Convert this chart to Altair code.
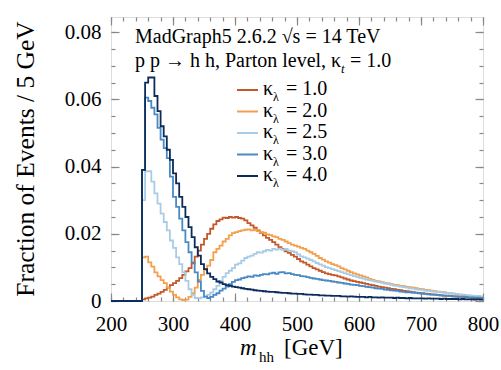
import altair as alt
import pandas as pd

# ---------------- data (fraction of events per 5 GeV bin) ----------------
bin_lo = list(range(200, 800, 5))  # left edges of the 5 GeV bins
labels = ["1.0", "2.0", "2.5", "3.0", "4.0"]
colors = ["#c4582a", "#f2a04c", "#a9cce6", "#4a8ac4", "#0c2c5c"]

zeros = [0.0] * 10  # 200-245 GeV: below threshold

k10 = zeros + [
    0.0005, 0.0008, 0.0010, 0.0013, 0.0018, 0.0022, 0.0027, 0.0033, 0.0040, 0.0047,
    0.0053, 0.0060, 0.0068, 0.0078, 0.0088, 0.0098, 0.0112, 0.0132, 0.0150, 0.0168,
    0.0185, 0.0200, 0.0215, 0.0228, 0.0238, 0.0243, 0.0248, 0.0247, 0.0250, 0.0248,
    0.0250, 0.0247, 0.0245, 0.0240, 0.0232, 0.0225, 0.0218, 0.0210, 0.0203, 0.0195,
    0.0188, 0.0182, 0.0175, 0.0168, 0.0160, 0.0155, 0.0148, 0.0143, 0.0137, 0.0132,
    0.0125, 0.0118, 0.0114, 0.0108, 0.0103, 0.0098, 0.0094, 0.0090, 0.0086, 0.0082,
    0.0080, 0.0078, 0.0076, 0.0073, 0.0070, 0.0067, 0.0064, 0.0061, 0.0059, 0.0057,
    0.0055, 0.0053, 0.0051, 0.0049, 0.0047, 0.0045, 0.0043, 0.0041, 0.0040, 0.0038,
    0.0036, 0.0035, 0.0033, 0.0032, 0.0030, 0.0029, 0.0028, 0.0026, 0.0025, 0.0024,
    0.0023, 0.0022, 0.0021, 0.0020, 0.0019, 0.0018, 0.0017, 0.0016, 0.0015, 0.0015,
    0.0014, 0.0013, 0.0012, 0.0012, 0.0011, 0.0010, 0.0010, 0.0009, 0.0009, 0.0008,
]

k20 = zeros + [
    0.0130, 0.0132, 0.0115, 0.0102, 0.0085, 0.0073, 0.0062, 0.0053, 0.0040, 0.0028,
    0.0018, 0.0011, 0.0005, 0.0003, 0.0004, 0.0012, 0.0023, 0.0040, 0.0063, 0.0078,
    0.0093, 0.0105, 0.0122, 0.0145, 0.0155, 0.0165, 0.0177, 0.0185, 0.0195, 0.0202,
    0.0205, 0.0208, 0.0210, 0.0212, 0.0213, 0.0210, 0.0212, 0.0208, 0.0205, 0.0203,
    0.0198, 0.0196, 0.0192, 0.0190, 0.0185, 0.0182, 0.0177, 0.0172, 0.0168, 0.0165,
    0.0162, 0.0158, 0.0155, 0.0150, 0.0145, 0.0140, 0.0134, 0.0128, 0.0123, 0.0118,
    0.0114, 0.0110, 0.0107, 0.0103, 0.0098, 0.0094, 0.0090, 0.0086, 0.0082, 0.0079,
    0.0076, 0.0073, 0.0070, 0.0066, 0.0063, 0.0060, 0.0058, 0.0056, 0.0054, 0.0052,
    0.0050, 0.0048, 0.0047, 0.0045, 0.0044, 0.0042, 0.0041, 0.0040, 0.0038, 0.0036,
    0.0035, 0.0033, 0.0032, 0.0031, 0.0029, 0.0028, 0.0027, 0.0026, 0.0024, 0.0023,
    0.0022, 0.0020, 0.0019, 0.0018, 0.0017, 0.0016, 0.0015, 0.0014, 0.0013, 0.0012,
]

k25 = zeros + [
    0.0300, 0.0386, 0.0386, 0.0355, 0.0320, 0.0290, 0.0260, 0.0235, 0.0210, 0.0180,
    0.0158, 0.0130, 0.0110, 0.0085, 0.0060, 0.0035, 0.0018, 0.0009, 0.0008, 0.0011,
    0.0014, 0.0018, 0.0025, 0.0035, 0.0045, 0.0060, 0.0072, 0.0083, 0.0090, 0.0098,
    0.0108, 0.0112, 0.0120, 0.0128, 0.0132, 0.0135, 0.0140, 0.0145, 0.0144, 0.0148,
    0.0152, 0.0150, 0.0155, 0.0153, 0.0156, 0.0152, 0.0155, 0.0150, 0.0148, 0.0145,
    0.0139, 0.0133, 0.0130, 0.0126, 0.0122, 0.0118, 0.0113, 0.0109, 0.0105, 0.0101,
    0.0098, 0.0095, 0.0092, 0.0089, 0.0086, 0.0083, 0.0080, 0.0077, 0.0074, 0.0072,
    0.0069, 0.0067, 0.0064, 0.0062, 0.0060, 0.0058, 0.0056, 0.0054, 0.0052, 0.0050,
    0.0048, 0.0046, 0.0045, 0.0043, 0.0041, 0.0040, 0.0038, 0.0037, 0.0035, 0.0034,
    0.0033, 0.0031, 0.0030, 0.0029, 0.0028, 0.0027, 0.0026, 0.0025, 0.0024, 0.0023,
    0.0022, 0.0021, 0.0020, 0.0019, 0.0018, 0.0017, 0.0016, 0.0015, 0.0015, 0.0014,
]

k30 = zeros + [
    0.0390, 0.0605, 0.0595, 0.0575, 0.0555, 0.0515, 0.0480, 0.0455, 0.0425, 0.0370,
    0.0310, 0.0280, 0.0245, 0.0210, 0.0175, 0.0145, 0.0115, 0.0085, 0.0058, 0.0030,
    0.0013, 0.0009, 0.0012, 0.0018, 0.0023, 0.0031, 0.0037, 0.0043, 0.0050, 0.0057,
    0.0062, 0.0064, 0.0068, 0.0070, 0.0073, 0.0072, 0.0076, 0.0075, 0.0078, 0.0080,
    0.0079, 0.0082, 0.0084, 0.0081, 0.0085, 0.0086, 0.0082, 0.0083, 0.0080, 0.0078,
    0.0077, 0.0074, 0.0073, 0.0071, 0.0069, 0.0067, 0.0066, 0.0064, 0.0062, 0.0061,
    0.0060, 0.0058, 0.0057, 0.0055, 0.0054, 0.0052, 0.0051, 0.0049, 0.0048, 0.0047,
    0.0045, 0.0044, 0.0042, 0.0041, 0.0040, 0.0038, 0.0037, 0.0036, 0.0034, 0.0033,
    0.0032, 0.0031, 0.0030, 0.0028, 0.0027, 0.0026, 0.0026, 0.0025, 0.0024, 0.0023,
    0.0022, 0.0021, 0.0020, 0.0019, 0.0019, 0.0018, 0.0017, 0.0016, 0.0016, 0.0015,
    0.0014, 0.0014, 0.0013, 0.0013, 0.0012, 0.0011, 0.0011, 0.0010, 0.0010, 0.0009,
]

k40 = zeros + [
    0.0390, 0.0650, 0.0665, 0.0665, 0.0610, 0.0565, 0.0520, 0.0490, 0.0450, 0.0420,
    0.0380, 0.0350, 0.0310, 0.0280, 0.0250, 0.0220, 0.0190, 0.0160, 0.0135, 0.0110,
    0.0095, 0.0082, 0.0072, 0.0065, 0.0058, 0.0055, 0.0050, 0.0047, 0.0045, 0.0043,
    0.0041, 0.0040, 0.0038, 0.0036, 0.0035, 0.0034, 0.0032, 0.0031, 0.0030, 0.0029,
    0.0028, 0.0027, 0.0027, 0.0026, 0.0025, 0.0024, 0.0024, 0.0023, 0.0022, 0.0022,
    0.0021, 0.0021, 0.0020, 0.0019, 0.0019, 0.0018, 0.0018, 0.0017, 0.0017, 0.0016,
    0.0016, 0.0015, 0.0015, 0.0015, 0.0014, 0.0014, 0.0013, 0.0014, 0.0013, 0.0012,
    0.0012, 0.0012, 0.0011, 0.0012, 0.0011, 0.0011, 0.0010, 0.0011, 0.0010, 0.0010,
    0.0010, 0.0009, 0.0010, 0.0009, 0.0009, 0.0008, 0.0009, 0.0008, 0.0008, 0.0008,
    0.0008, 0.0007, 0.0008, 0.0007, 0.0007, 0.0007, 0.0006, 0.0007, 0.0006, 0.0006,
    0.0006, 0.0006, 0.0005, 0.0006, 0.0005, 0.0005, 0.0005, 0.0004, 0.0005, 0.0004,
]

series = [k10, k20, k25, k30, k40]
x_ticks_major = [200, 300, 400, 500, 600, 700, 800]
y_ticks_major = [0, 0.02, 0.04, 0.06, 0.08]

# ---------------- table ----------------
rows = []
for lab, vals in zip(labels, series):
    for lo, v in zip(bin_lo, vals):
        rows.append({"k": lab, "x": lo, "y": v})
    rows.append({"k": lab, "x": 800, "y": vals[-1]})  # close last step
df = pd.DataFrame(rows)

FONT = "Liberation Serif"
TICK = "#888888"
W, H = 372, 284

xs = alt.Scale(domain=[200, 800], nice=False, zero=False)
ys = alt.Scale(domain=[0, 0.0845], nice=False)
x_minor = list(range(200, 801, 20))
y_minor = [round(i * 0.005, 3) for i in range(0, 17)]


def ax(orient, values, size, labels=False, **kw):
    return alt.Axis(orient=orient, values=values, tickSize=size, offset=-size,
                    labels=labels, domain=False, grid=False, title=None,
                    ticks=True, tickColor=TICK, tickWidth=1.2, **kw)


lines = alt.Chart(df).mark_line(interpolate="step-after", strokeWidth=1.8).encode(
    x=alt.X("x:Q", scale=xs,
            axis=ax("bottom", x_ticks_major, 8, labels=True, labelPadding=12,
                    labelFont=FONT, labelFontSize=21, labelColor="black",
                    labelFlush=False)),
    y=alt.Y("y:Q", scale=ys,
            axis=ax("left", y_ticks_major, 8, labels=True, labelPadding=10,
                    labelFont=FONT, labelFontSize=21, labelColor="black",
                    labelFlush=False,
                    labelExpr="datum.value == 0 ? '0' : format(datum.value, '.2f')")),
    color=alt.Color("k:N", scale=alt.Scale(domain=labels, range=colors), legend=None),
    detail="k:N",
)


def axis_layer(xo, xv, xsz, yo, yv, ysz):
    return alt.Chart(df).mark_line(opacity=0).encode(
        x=alt.X("x:Q", scale=xs, axis=ax(xo, xv, xsz)),
        y=alt.Y("y:Q", scale=ys, axis=ax(yo, yv, ysz)),
        detail="k:N",
    )


ax1 = axis_layer("bottom", x_minor, 4, "left", y_minor, 4)
ax2 = axis_layer("top", x_ticks_major, 8, "right", y_ticks_major, 8)
ax3 = axis_layer("top", x_minor, 4, "right", y_minor, 4)

one = pd.DataFrame({"z": [0]})


def txt(s, x, y, size=20, style="normal", align="left", baseline="alphabetic", angle=0):
    return alt.Chart(one).mark_text(
        text=s, align=align, baseline=baseline, font=FONT, fontSize=size,
        fontStyle=style, color="black", angle=angle,
    ).encode(x=alt.value(x), y=alt.value(y))


texts = [
    txt("MadGraph5 2.6.2  \u221as = 14 TeV", 24, 26),
    txt("p p \u2192 h h, Parton level, \u03ba", 24, 50),
    txt("t", 230, 56, size=13, style="italic"),
    txt("= 1.0", 239, 50),
    # axis titles
    txt("Fraction of Events / 5 GeV", -85, 142, size=25.5, align="center",
        baseline="middle", angle=270),
    txt("m", 129, 338, size=23, style="italic"),
    txt("hh", 148, 345, size=15),
    txt("[GeV]", 173, 338, size=23),
]

legend = []
for i, (lab, c) in enumerate(zip(labels, colors)):
    yy = 73 + i * 21.5
    legend.append(alt.Chart(one).mark_rule(color=c, strokeWidth=2).encode(
        x=alt.value(126), x2=alt.value(147), y=alt.value(yy)))
    legend.append(txt("\u03ba", 152, yy + 5))
    legend.append(txt("\u03bb", 162, yy + 11, size=12))
    legend.append(txt("= " + lab, 175, yy + 5))

chart = alt.layer(lines, ax1, ax2, ax3, *texts, *legend).resolve_axis(
    x="independent", y="independent"
).properties(
    width=W, height=H,
    autosize=alt.AutoSizeParams(type="none"),
    padding={"left": 111, "top": 17, "right": 18, "bottom": 69},
).configure_view(stroke=TICK, strokeWidth=1.4).configure(background="white")

chart.save("out.html", embed_options={"renderer": "svg", "actions": False})
